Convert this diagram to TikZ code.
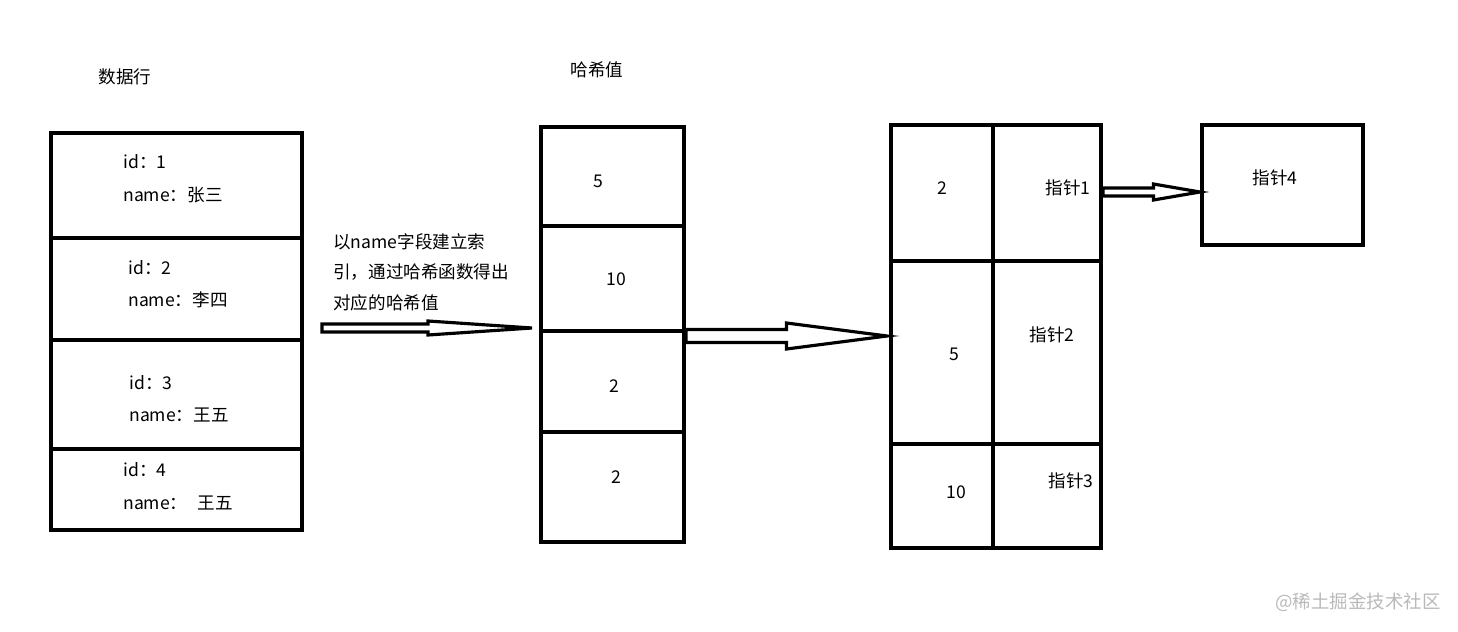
\documentclass[tikz,border=0pt]{standalone}
\usepackage{fontspec}
\setmainfont{Noto Sans CJK SC}
\usetikzlibrary{positioning, calc}

% hollow block arrow: from, to, shaft half height, head half height, head start
\newcommand{\hollowarrow}[5]{%
  \draw[fat] ($(#1)+(0,-#3)$) -- ($(#1)!#5!(#2)+(0,-#3)$)
    -- ($(#1)!#5!(#2)+(0,-#4)$) -- (#2)
    -- ($(#1)!#5!(#2)+(0,#4)$) -- ($(#1)!#5!(#2)+(0,#3)$)
    -- ($(#1)+(0,#3)$) -- cycle;}

\begin{document}
\begin{tikzpicture}[
  x=0.02cm, y=-0.02cm,
  font=\fontsize{10}{17.4}\selectfont,
  cell/.style={draw, line width=1.8pt, inner sep=0pt, outer sep=0pt, anchor=north west},
  size/.style 2 args={minimum width={#1*0.02cm}, minimum height={#2*0.02cm}},
  lbl/.style={inner sep=0pt, anchor=west},
  num/.style={inner sep=0pt},
  fat/.style={draw, line width=1.8pt, line join=miter}
]
\useasboundingbox (0,0) rectangle (1458,632);

% data rows
\node[cell, size={251}{105}] (row1) at (51,133) {};
\node[cell, size={251}{102}] (row2) at (row1.south west) {};
\node[cell, size={251}{109}] (row3) at (row2.south west) {};
\node[cell, size={251}{81}]  (row4) at (row3.south west) {};
\node (rowtitle) at (125,77) {数据行};

\node[lbl] (id1) at (123,162) {id：1};
\node[lbl] (nm1) at (123,195) {name：张三};
\node[lbl] (id2) at (128,268) {id：2};
\node[lbl] (nm2) at (128,300) {name：李四};
\node[lbl] (id3) at (129,383) {id：3};
\node[lbl] (nm3) at (129,415) {name：王五};
\node[lbl] (id4) at (123,470) {id：4};
\node[lbl] (nm4) at (123,503) {name：\hspace{0.2cm}王五};

% hash values
\node[cell, size={143}{99}]  (hv1) at (541,127) {};
\node[cell, size={143}{105}] (hv2) at (hv1.south west) {};
\node[cell, size={143}{101}] (hv3) at (hv2.south west) {};
\node[cell, size={143}{110}] (hv4) at (hv3.south west) {};
\node (hvtitle) at (597,70) {哈希值};

\node[num] (h1) at (598,181) {5};
\node[num] (h2) at (616,279) {10};
\node[num] (h3) at (614,386) {2};
\node[num] (h4) at (616,477) {2};

\node[inner sep=0pt, anchor=north west, align=left] (desc) at (333,233)
  {以name字段建立索\\引，通过哈希函数得出\\对应的哈希值};

% index table
\node[cell, size={102}{136}] (k1) at (891,125) {};
\node[cell, size={108}{136}] (p1) at (k1.north east) {};
\node[cell, size={102}{183}] (k2) at (k1.south west) {};
\node[cell, size={108}{183}] (p2) at (k2.north east) {};
\node[cell, size={102}{104}] (k3) at (k2.south west) {};
\node[cell, size={108}{104}] (p3) at (k3.north east) {};
\node[cell, size={161}{120}] (p4) at (1202,125) {};

\node[num] (k1t) at (942,188) {2};
\node[num] (p1t) at (1068,188) {指针1};
\node[num] (k2t) at (954,354) {5};
\node[num] (p2t) at (1052,335) {指针2};
\node[num] (k3t) at (956,492) {10};
\node[num] (p3t) at (1071,481) {指针3};
\node[num] (p4t) at (1275,178) {指针4};

% arrows
\coordinate (a1s) at (322,328);
\coordinate (a1e) at (532,328);
\coordinate (a2s) at (686,336);
\coordinate (a2e) at (887,336);
\coordinate (a3s) at (1103,192);
\coordinate (a3e) at (1200,192);
\hollowarrow{a1s}{a1e}{4}{7}{0.505}
\hollowarrow{a2s}{a2e}{6.5}{13}{0.5}
\hollowarrow{a3s}{a3e}{4}{8}{0.52}

\node[text=gray!55, font=\fontsize{10.5}{12}\selectfont] (mark) at (1358,602) {@稀土掘金技术社区};

\end{tikzpicture}
\end{document}
